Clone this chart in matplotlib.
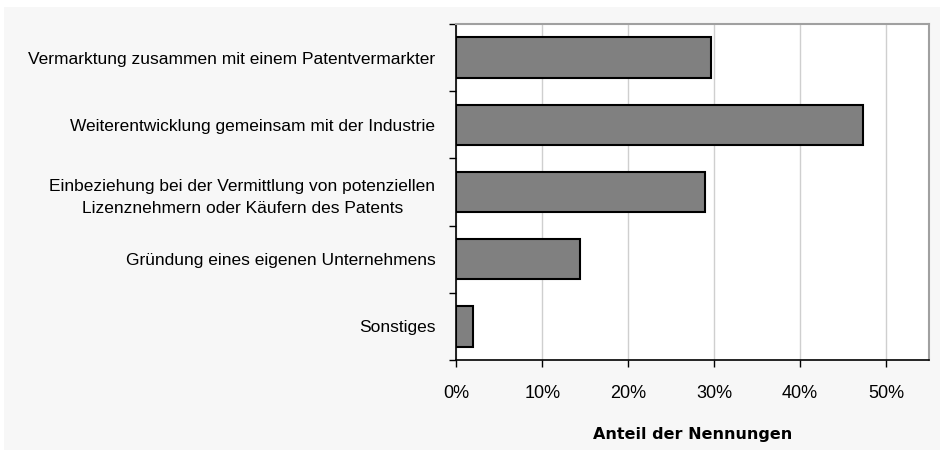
import matplotlib.pyplot as plt
from matplotlib import font_manager
from matplotlib.patches import Rectangle
from matplotlib.ticker import FixedLocator, PercentFormatter

categories = [
    "Vermarktung zusammen mit einem Patentvermarkter",
    "Weiterentwicklung gemeinsam mit der Industrie",
    "Einbeziehung bei der Vermittlung von potenziellen\nLizenznehmern oder Käufern des Patents",
    "Gründung eines eigenen Unternehmens",
    "Sonstiges",
]
shares = [29.6, 47.3, 28.9, 14.4, 2.0]
xticks = [0, 10, 20, 30, 40, 50]

installed = {f.name for f in font_manager.fontManager.ttflist}
narrow = [n for n in ['Liberation Sans Narrow', 'Arial Narrow'] if n in installed]
label_font = narrow + ['Liberation Sans', 'DejaVu Sans']
label_size = 14 if narrow else 12.5

fig = plt.figure(figsize=(9.4, 4.5), dpi=100)
fig.patch.set_facecolor('white')
fig.patches.append(Rectangle((4 / 940, 0), 1, 1 - 7 / 450, transform=fig.transFigure,
                             facecolor='#f7f7f7', edgecolor='none', zorder=-10))

ax = fig.add_axes([456.3 / 940, 1 - 360 / 450, (929 - 456.3) / 940, (360 - 24) / 450])
ax.set_facecolor('white')

ypos = list(range(len(categories)))
ax.barh(ypos, shares, height=0.6, color='#808080', edgecolor='black', linewidth=1.5, zorder=3)

ax.set_ylim(len(categories) - 0.5, -0.5)
ax.set_xlim(0, 55)
ax.set_yticks(ypos)
ax.set_yticklabels(categories, family=label_font, fontsize=label_size, linespacing=1.6,
                   multialignment='center')
ax.tick_params(axis='y', which='major', length=0, pad=15)
ax.yaxis.set_minor_locator(FixedLocator([i + 0.5 for i in range(-1, len(categories))]))
ax.tick_params(axis='y', which='minor', length=5, width=1, color='black')

ax.set_xticks(xticks)
ax.xaxis.set_major_formatter(PercentFormatter(decimals=0))
for lab in ax.get_xticklabels():
    lab.set_family(label_font)
    lab.set_fontsize(13)
ax.tick_params(axis='x', length=5, width=1, pad=13, color='black')

ax.grid(axis='x', color='#cfcfcf', linewidth=1, zorder=0)
ax.set_axisbelow(True)

for side in ['left', 'bottom']:
    ax.spines[side].set_color('black')
    ax.spines[side].set_linewidth(1.2)
for side in ['top', 'right']:
    ax.spines[side].set_color('#a0a0a0')
    ax.spines[side].set_linewidth(1.5)

ax.set_xlabel("Anteil der Nennungen", fontsize=11.5, fontweight='bold', labelpad=18,
              family='DejaVu Sans')

fig.savefig('out.png', dpi=100, facecolor=fig.get_facecolor())
